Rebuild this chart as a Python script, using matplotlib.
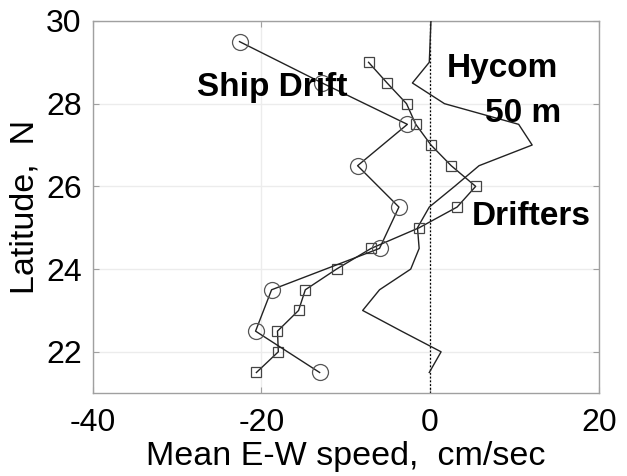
import matplotlib
matplotlib.use("Agg")
import matplotlib.pyplot as plt

# Ship drift (circles), 1-degree bins
ship_lat = [29.5, 28.5, 27.5, 26.5, 25.5, 24.5, 23.5, 22.5, 21.5]
ship_u = [-22.6, -12.8, -2.7, -8.6, -3.7, -6.0, -18.8, -20.7, -13.1]

# Drifters (squares), 0.5-degree bins
drift_lat = [29.0, 28.5, 28.0, 27.5, 27.0, 26.5, 26.0, 25.5, 25.0, 24.5, 24.0,
             23.5, 23.0, 22.5, 22.0, 21.5]
drift_u = [-7.3, -5.1, -2.8, -1.7, 0.1, 2.5, 5.4, 3.2, -1.3, -7.0, -11.1,
           -14.8, -15.6, -18.1, -18.0, -20.6]

# Hycom 50 m (solid line)
hycom_lat = [30.0, 29.5, 29.0, 28.5, 28.0, 27.5, 27.0, 26.5, 26.0, 25.5, 25.0,
             24.5, 24.0, 23.5, 23.0, 22.5, 22.0, 21.5]
hycom_u = [0.1, 0.0, -0.1, -2.1, 1.7, 10.5, 12.1, 5.8, 2.9, -0.1, -1.5,
           -1.3, -2.3, -6.0, -8.0, -3.4, 1.3, -0.1]

xticks = [-40, -20, 0, 20]
yticks = [22, 24, 26, 28, 30]

plt.rcParams['font.family'] = ['Liberation Sans', 'DejaVu Sans']
plt.rcParams['axes.unicode_minus'] = False

fig = plt.figure(figsize=(6.27, 4.76), dpi=100)
ax = fig.add_axes([0.148, 0.174, 0.807, 0.782])

ax.set_xlim(-40, 20)
ax.set_ylim(21, 30)
ax.set_xticks(xticks)
ax.set_yticks(yticks)
ax.grid(True, color='#ececec', linewidth=1.0)
ax.set_axisbelow(True)

ax.axvline(0, color='black', linestyle=(0, (1.5, 1.5)), linewidth=0.9, zorder=2)

ax.plot(hycom_u, hycom_lat, color='#222222', linewidth=1.0, zorder=3)
ax.plot(drift_u, drift_lat, color='#222222', linewidth=1.0, marker='s',
        markersize=7, markerfacecolor='none', markeredgecolor='#444444',
        markeredgewidth=0.9, zorder=4)
ax.plot(ship_u, ship_lat, color='#222222', linewidth=1.0, marker='o',
        markersize=11.5, markerfacecolor='none', markeredgecolor='#555555',
        markeredgewidth=0.9, zorder=4)

ax.text(-27.6, 28.4, 'Ship Drift', fontsize=24, fontweight='bold',
        ha='left', va='center', zorder=5)
ax.text(2.0, 28.86, 'Hycom', fontsize=24, fontweight='bold',
        ha='left', va='center', zorder=5)
ax.text(6.5, 27.77, '50 m', fontsize=24, fontweight='bold',
        ha='left', va='center', zorder=5)
ax.text(4.9, 25.26, 'Drifters', fontsize=24, fontweight='bold',
        ha='left', va='center', zorder=5)

for s in ax.spines.values():
    s.set_color('#a0a0a0')
    s.set_linewidth(1.0)
ax.tick_params(direction='in', length=4, color='#a0a0a0', labelsize=23,
               top=True, right=True, pad=8)
ax.tick_params(axis='x', pad=11)

ax.set_xlabel('Mean E-W speed,  cm/sec', fontsize=24.5, labelpad=2)
ax.set_ylabel('Latitude,  N', fontsize=24.5, labelpad=4)

fig.savefig('out.png', dpi=100)
